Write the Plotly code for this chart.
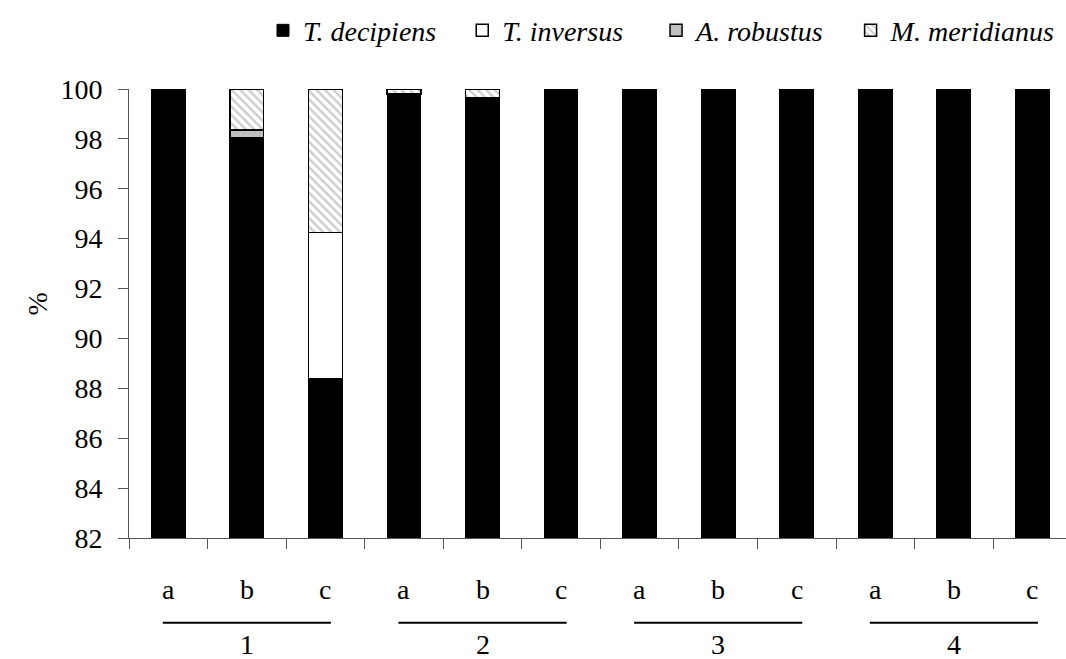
import plotly.graph_objects as go

# ---- data ----
categories = ["a", "b", "c"] * 4
groups = ["1", "2", "3", "4"]
t_decipiens = [100, 98.06, 88.4, 99.8, 99.63, 100, 100, 100, 100, 100, 100, 100]
t_inversus = [0, 0, 5.85, 0, 0, 0, 0, 0, 0, 0, 0, 0]
a_robustus = [0, 0.30, 0, 0, 0, 0, 0, 0, 0, 0, 0, 0]
m_meridianus = [0, 1.64, 5.75, 0.2, 0.37, 0, 0, 0, 0, 0, 0, 0]
y_ticks = [82, 84, 86, 88, 90, 92, 94, 96, 98, 100]

FONT = "Liberation Serif"
FS = 28
x = list(range(len(categories)))
NB = "&nbsp;"

fig = go.Figure()
fig.add_trace(go.Bar(x=x, y=t_decipiens, name="<i>T. decipiens</i>" + NB * 3,
                     marker=dict(color="black", line=dict(color="black", width=1))))
fig.add_trace(go.Bar(x=x, y=t_inversus, name="<i>T. inversus</i>" + NB * 4,
                     marker=dict(color="white", line=dict(color="black", width=1.5))))
fig.add_trace(go.Bar(x=x, y=a_robustus, name="<i>A. robustus</i>" + NB * 3,
                     marker=dict(color="#c0c0c0", line=dict(color="black", width=1.5))))
fig.add_trace(go.Bar(x=x, y=m_meridianus, name="<i>M. meridianus</i>",
                     marker=dict(color="white",
                                 pattern=dict(shape="\\", fgcolor="#999999", bgcolor="white",
                                              size=6, solidity=0.4),
                                 line=dict(color="black", width=1.5))))

n = len(categories)
fig.update_xaxes(range=[-0.5, -0.5 + 937 / 78.56], showgrid=False, zeroline=False,
                 showline=True, linecolor="#555", linewidth=1,
                 tickmode="array", tickvals=[i - 0.5 for i in range(n)],
                 ticks="outside", ticklen=10, tickcolor="#555", tickwidth=1,
                 showticklabels=False)
fig.update_yaxes(range=[82, 100], showgrid=False, zeroline=False,
                 showline=True, linecolor="#555", linewidth=1,
                 tickmode="array", tickvals=y_ticks,
                 ticks="outside", ticklen=10, tickcolor="#555", tickwidth=1,
                 tickfont=dict(family=FONT, size=FS, color="black"),
                 ticklabelstandoff=10)

ann = []
for i, c in enumerate(categories):
    ann.append(dict(x=i, y=-0.1158, xref="x", yref="paper", text=c, showarrow=False,
                    font=dict(family=FONT, size=FS, color="black"),
                    xanchor="center", yanchor="middle"))
shapes = []
for g, lab in enumerate(groups):
    c0 = g * 3
    shapes.append(dict(type="line", xref="x", yref="paper", x0=c0 - 0.07, x1=c0 + 2.07,
                       y0=-0.1886, y1=-0.1886, line=dict(color="black", width=2)))
    ann.append(dict(x=c0 + 1, y=-0.238, xref="x", yref="paper", text=lab, showarrow=False,
                    font=dict(family=FONT, size=FS, color="black"),
                    xanchor="center", yanchor="middle"))
ann.append(dict(x=-0.0971, y=0.52, xref="paper", yref="paper", text="%", showarrow=False,
                textangle=-90, font=dict(family=FONT, size=FS, color="black"),
                xanchor="center", yanchor="middle"))

fig.update_layout(width=1066, height=659,
                  margin=dict(l=129, r=0, t=89, b=121, autoexpand=False),
                  plot_bgcolor="white", paper_bgcolor="white",
                  barmode="stack", bargap=0.57,
                  showlegend=True,
                  legend=dict(orientation="h", x=0.143, y=1.13, xanchor="left", yanchor="middle",
                              font=dict(family=FONT, size=FS, color="black"),
                              traceorder="normal"),
                  annotations=ann, shapes=shapes)

fig.write_html("out.html")
